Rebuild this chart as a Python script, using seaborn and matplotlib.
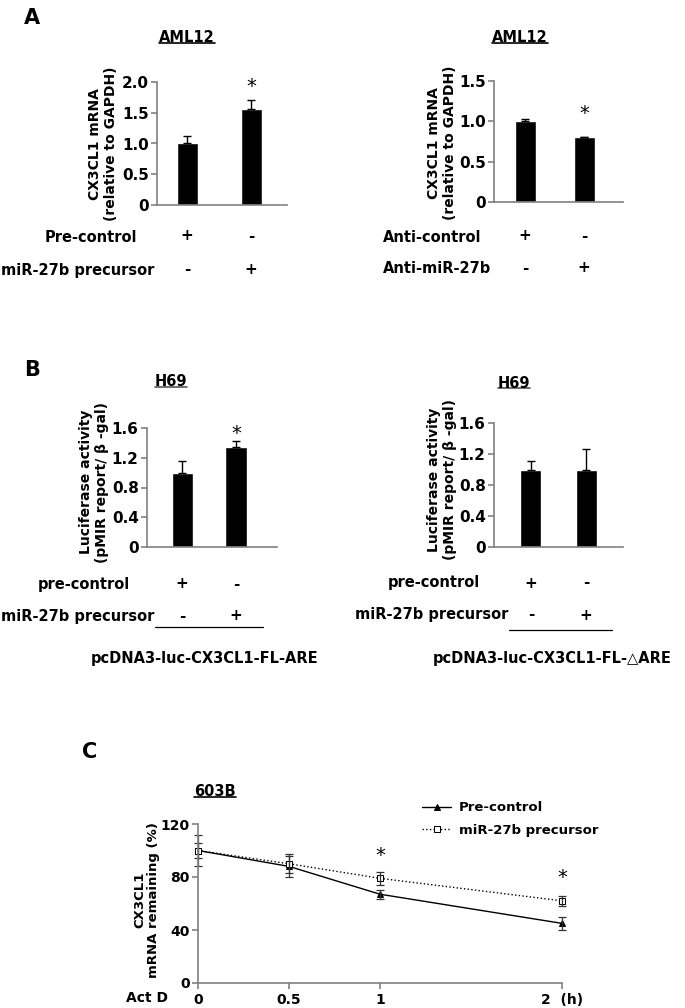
import numpy as np
import pandas as pd
import seaborn as sns
import matplotlib
matplotlib.use("Agg")
import matplotlib.pyplot as plt
from matplotlib.lines import Line2D
from matplotlib.transforms import blended_transform_factory, IdentityTransform

# ---- data ----
groups = ["ctrl", "mir"]

aml_pre_vals = [1.00, 1.56]
aml_pre_err = [0.12, 0.14]
aml_anti_vals = [1.00, 0.80]
aml_anti_err = [0.03, 0.01]

h69_fl_vals = [1.00, 1.34]
h69_fl_err = [0.15, 0.08]
h69_dare_vals = [1.00, 0.99]
h69_dare_err = [0.11, 0.28]

time_h = [0, 0.5, 1, 2]
precontrol_pct = [100, 88, 67, 45]
precontrol_err = [12, 8, 3.5, 5]
mir27b_pct = [100, 90, 79, 62]
mir27b_err = [6, 7, 5, 4]

W, H = 685, 1008
sns.set_theme(style="white")
plt.rcParams["font.family"] = ["DejaVu Sans"]
plt.rcParams["text.color"] = "black"
plt.rcParams["axes.labelcolor"] = "black"
plt.rcParams["xtick.color"] = "black"
plt.rcParams["ytick.color"] = "black"
fig = plt.figure(figsize=(W / 100, H / 100), dpi=100)
rend = fig.canvas.get_renderer()
GREY = "#808080"


def fx(x):
    return x / W


def fy(y):
    return 1 - y / H


def add_ax(x0, x1, ytop, ybot):
    ax = fig.add_axes([fx(x0), fy(ybot), (x1 - x0) / W, (ybot - ytop) / H])
    ax.set_facecolor("none")
    for s in ["top", "right"]:
        ax.spines[s].set_visible(False)
    for s in ["left", "bottom"]:
        ax.spines[s].set_color(GREY)
        ax.spines[s].set_linewidth(1.2)
    ax.tick_params(axis="y", left=True, length=4, width=1.2, color=GREY, pad=2,
                   labelsize=11, labelcolor="black")
    return ax


def ftext(x, y, s, **kw):
    kw.setdefault("fontweight", "bold")
    kw.setdefault("color", "black")
    return fig.text(fx(x), fy(y), s, **kw)


def underline_title(x, y, s, size=10.5, color="black"):
    t = ftext(x, y, s, ha="center", va="center", fontsize=size)
    bb = t.get_window_extent(renderer=rend)
    fig.add_artist(Line2D([bb.x0, bb.x1], [bb.y0 + 2.5] * 2, color=color, lw=1.2,
                          transform=IdentityTransform()))


def hline(x0, x1, y):
    fig.add_artist(Line2D([fx(x0), fx(x1)], [fy(y)] * 2, color="black", lw=0.9,
                          transform=fig.transFigure))


def bar_panel(ax, vals, errs, width, xlim, yticks, ylabels, ymax):
    df = pd.DataFrame({"grp": groups, "val": vals})
    sns.barplot(data=df, x="grp", y="val", color="black", width=width,
                errorbar=None, saturation=1, ax=ax)
    ax.errorbar([0, 1], vals, yerr=[[0, 0], errs], fmt="none", ecolor="black",
                elinewidth=1, capsize=3, capthick=1)
    ax.set_xlim(*xlim)
    ax.set_ylim(0, ymax)
    ax.set_xticks([])
    ax.set_xlabel("")
    ax.set_ylabel("")
    ax.set_yticks(yticks)
    ax.set_yticklabels(ylabels, fontweight="bold", fontsize=11)


def signs(ax, rows, yrows):
    tr = blended_transform_factory(ax.transData, fig.transFigure)
    for marks, y in zip(rows, yrows):
        for i, m in enumerate(marks):
            ax.text(i, fy(y), m, transform=tr, ha="center", va="center",
                    fontsize=11, fontweight="bold", color="black")


def star(ax, x, y, size=14):
    ax.text(x, y, "*", ha="center", va="center", fontsize=size, clip_on=False,
            color="black")


# ---------------- Panel A ----------------
ftext(32, 18, "A", fontsize=15, ha="center", va="center")

ax = add_ax(157, 287, 82, 205)
bar_panel(ax, aml_pre_vals, aml_pre_err, 0.33, (-0.47, 1.56),
          [0, 0.5, 1.0, 1.5, 2.0], ["0", "0.5", "1.0", "1.5", "2.0"], 2.0)
star(ax, 1, 1.93)
underline_title(187, 38, "AML12")
ftext(103, 144, "CX3CL1 mRNA\n(relative to GAPDH)", rotation=90, ha="center",
      va="center", fontsize=10, multialignment="center", linespacing=1.1)
ftext(137, 237, "Pre-control", ha="right", va="center", fontsize=10.5)
ftext(154, 271, "miR-27b precursor", ha="right", va="center", fontsize=10.5)
signs(ax, [["+", "-"], ["-", "+"]], [236, 270])

ax = add_ax(494, 623, 81, 202)
bar_panel(ax, aml_anti_vals, aml_anti_err, 0.36, (-0.53, 1.66),
          [0, 0.5, 1.0, 1.5], ["0", "0.5", "1.0", "1.5"], 1.5)
star(ax, 1, 1.10)
underline_title(520, 38, "AML12")
ftext(442, 143, "CX3CL1 mRNA\n(relative to GAPDH)", rotation=90, ha="center",
      va="center", fontsize=10, multialignment="center", linespacing=1.1)
ftext(383, 237, "Anti-control", ha="left", va="center", fontsize=10.5)
ftext(383, 269, "Anti-miR-27b", ha="left", va="center", fontsize=10.5)
signs(ax, [["+", "-"], ["-", "+"]], [236, 268])

# ---------------- Panel B ----------------
ftext(32, 370, "B", fontsize=15, ha="center", va="center")
b_ticks = [0, 0.4, 0.8, 1.2, 1.6]
b_labels = ["0", "0.4", "0.8", "1.2", "1.6"]
b_ylab = "Luciferase activity\n(pMIR report/ \u03b2 -gal)"

ax = add_ax(147, 277, 428, 547)
bar_panel(ax, h69_fl_vals, h69_fl_err, 0.39, (-0.65, 1.76), b_ticks, b_labels, 1.6)
star(ax, 1, 1.53)
underline_title(171, 382, "H69", color="#555555")
ftext(94, 482, b_ylab, rotation=90, ha="center", va="center", fontsize=10,
      multialignment="center", linespacing=1.1)
ftext(130, 584, "pre-control", ha="right", va="center", fontsize=10.5)
ftext(154, 616, "miR-27b precursor", ha="right", va="center", fontsize=10.5)
signs(ax, [["+", "-"], ["-", "+"]], [584, 616])
hline(155, 263, 627)
ftext(205, 659, "pcDNA3-luc-CX3CL1-FL-ARE", ha="center", va="center", fontsize=10.5)

ax = add_ax(494, 623, 423, 547)
bar_panel(ax, h69_dare_vals, h69_dare_err, 0.38, (-0.67, 1.67), b_ticks, b_labels, 1.6)
ax.lines[-1].set_color(GREY)
underline_title(514, 383, "H69", color="#555555")
ftext(442, 480, b_ylab, rotation=90, ha="center", va="center", fontsize=10,
      multialignment="center", linespacing=1.1)
ftext(480, 583, "pre-control", ha="right", va="center", fontsize=10.5)
ftext(508, 615, "miR-27b precursor", ha="right", va="center", fontsize=10.5)
signs(ax, [["+", "-"], ["-", "+"]], [583, 615])
hline(509, 612, 630)
ftext(552, 659, "pcDNA3-luc-CX3CL1-FL-\u25b3ARE", ha="center", va="center",
      fontsize=10.5)

# ---------------- Panel C ----------------
ftext(90, 752, "C", fontsize=15, ha="center", va="center")
ax = add_ax(198, 562, 824, 983)
sns.lineplot(x=time_h, y=precontrol_pct, color="black", lw=1, marker="^",
             markersize=4, markerfacecolor="black", markeredgecolor="black",
             label="Pre-control", ax=ax, clip_on=False)
sns.lineplot(x=time_h, y=mir27b_pct, color="black", lw=1, linestyle=":",
             marker="s", markersize=4, markerfacecolor="white",
             markeredgecolor="black", label="miR-27b precursor", ax=ax, clip_on=False)
ax.errorbar(time_h, precontrol_pct, yerr=precontrol_err, fmt="none",
            ecolor="#333333", elinewidth=0.9, capsize=3, capthick=0.9, clip_on=False)
ax.errorbar(time_h, mir27b_pct, yerr=mir27b_err, fmt="none",
            ecolor="#333333", elinewidth=0.9, capsize=3, capthick=0.9, clip_on=False)
ax.set_xlim(0, 2)
ax.set_ylim(0, 120)
ax.set_yticks([0, 40, 80, 120])
ax.set_yticklabels(["0", "40", "80", "120"], fontweight="bold", fontsize=10)
ax.set_xticks(time_h)
ax.set_xticklabels(["0", "0.5", "1", "2  (h)"], fontweight="bold", fontsize=10)
ax.tick_params(axis="x", bottom=True, length=4, width=1.2, color=GREY, pad=3,
               labelcolor="black")
ax.set_xlabel("")
ax.set_ylabel("")
star(ax, 1, 96)
star(ax, 2, 80)
leg = ax.legend(loc="upper left", bbox_to_anchor=(fx(417), fy(796)),
                bbox_transform=fig.transFigure, frameon=False, handlelength=2.2,
                handletextpad=0.6, labelspacing=0.7, borderaxespad=0,
                prop={"weight": "bold", "size": 9.5}, labelcolor="black")
underline_title(215, 792, "603B", size=10.5)
ftext(147, 900, "CX3CL1\nmRNA remaining (%)", rotation=90, ha="center",
      va="center", fontsize=9.5, multialignment="center", linespacing=1.1)
ftext(147, 998, "Act D", ha="center", va="center", fontsize=10)

fig.savefig("out.png", dpi=100)
